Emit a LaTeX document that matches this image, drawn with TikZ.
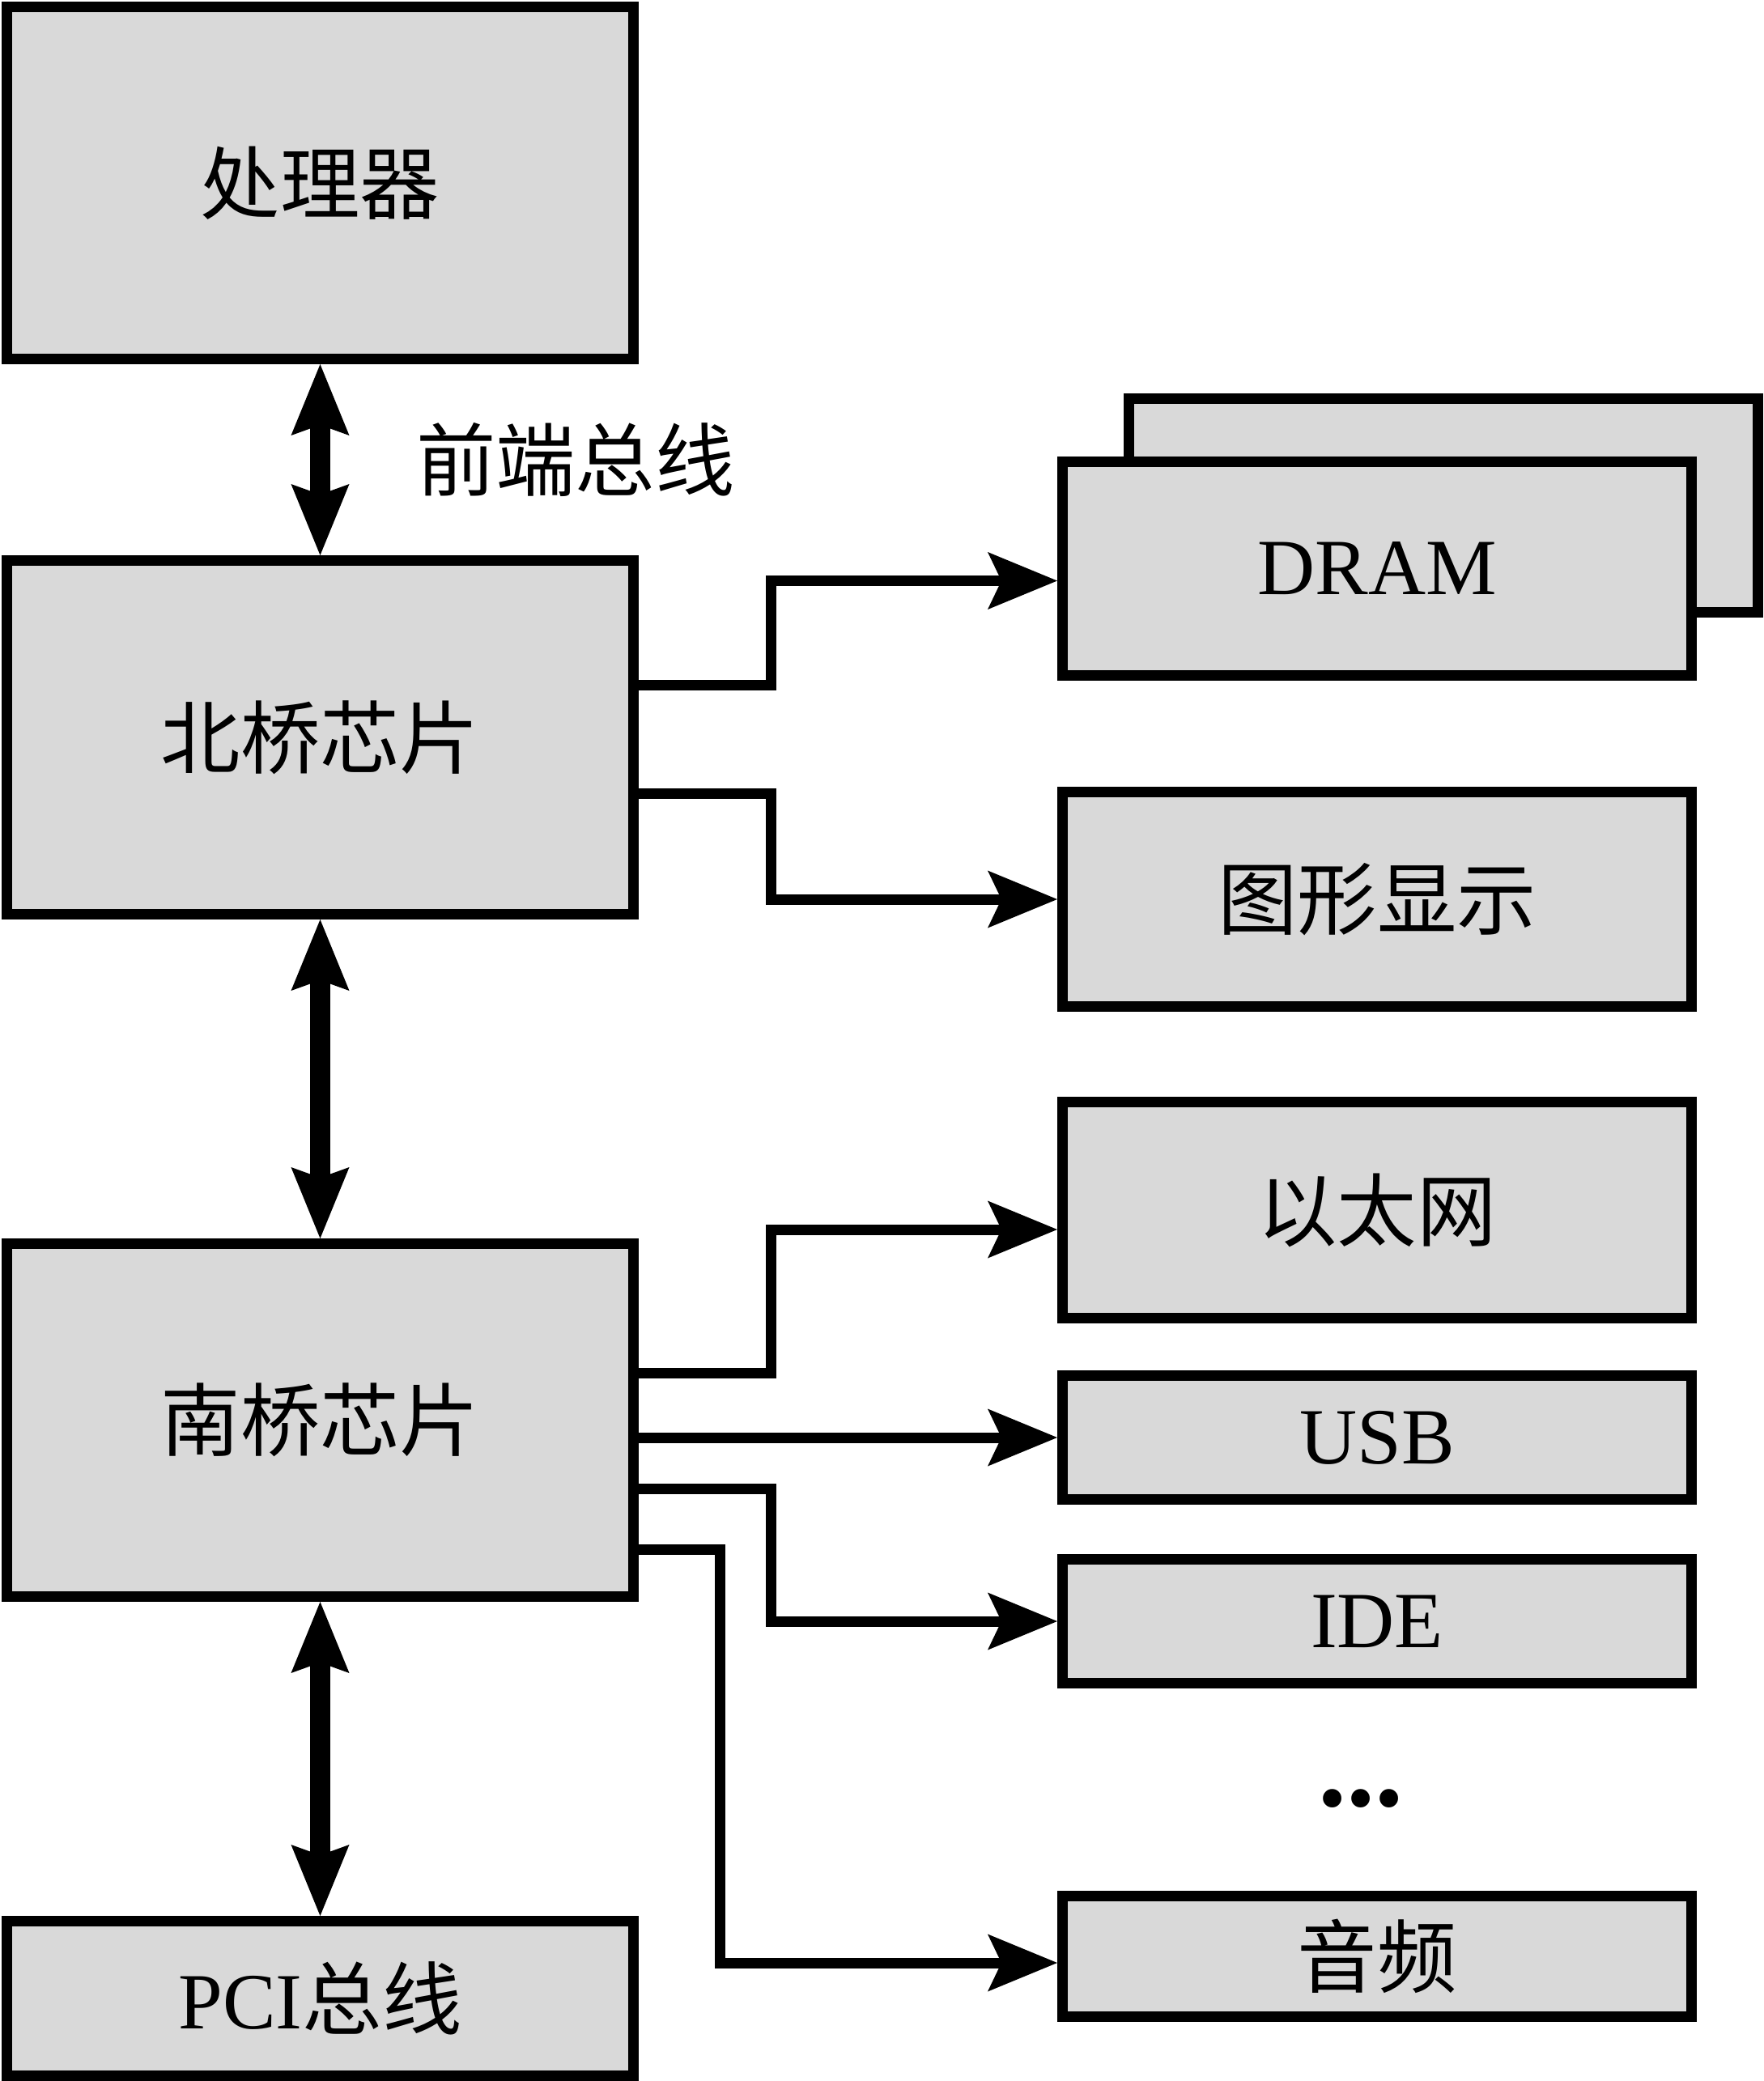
\documentclass[tikz,border=0pt]{standalone}
\usepackage{fontspec}
\setmainfont{Liberation Serif}
\newfontfamily\cjk{Noto Sans CJK SC}
\usepackage{xcolor}
\usepackage{tikz}
\usetikzlibrary{arrows.meta}
\usetikzlibrary{positioning}
\usetikzlibrary{calc}
\definecolor{boxgray}{RGB}{217,217,217}

\begin{document}
\begin{tikzpicture}[
    block/.style={rectangle, draw, line width=0.13cm, fill=boxgray, inner sep=0pt, font=\fontsize{28}{34}\selectfont},
    chip/.style={block, minimum width=7.74cm, minimum height=#1},
    dev/.style={block, minimum width=7.77cm, minimum height=#1},
    link/.style={line width=0.13cm, -{Stealth[length=0.86cm, width=0.71cm, inset=0.17cm, line width=0pt]}},
    bus/.style={line width=0.25cm, <->, >={Stealth[length=0.88cm, width=0.72cm, inset=0.13cm, line width=0pt]}}]
    \useasboundingbox (0,0) rectangle (21.79,-25.71);

    \node[chip=4.35cm] (proc) at (3.955,-2.26) {\cjk 处理器};
    \node[chip=4.37cm] (nb) at (3.955,-9.11) {\cjk 北桥芯片};
    \node[chip=4.36cm] (sb) at (3.955,-17.545) {\cjk 南桥芯片};
    \node[chip=1.91cm] (pci) at (3.955,-24.69) {PCI{\cjk 总线}};

    \node[dev=2.64cm] (dramback) at (17.83,-6.245) {};
    \node[dev=2.64cm] (dram) at (17.01,-7.025) {DRAM};
    \node[dev=2.65cm] (gfx) at (17.01,-11.11) {\cjk 图形显示};
    \node[dev=2.67cm] (eth) at (17.01,-14.95) {\cjk 以太网};
    \node[dev=1.53cm] (usb) at (17.01,-17.76) {USB};
    \node[dev=1.53cm] (ide) at (17.01,-20.03) {IDE};
    \node[dev=1.49cm] (audio) at (17.01,-24.17) {\cjk 音频};
    \node[xshift=-0.2cm, yshift=-0.12cm, font=\fontsize{40}{48}\selectfont\bfseries] (dots) at ($(ide)!0.5!(audio)$) {...};

    \draw[bus] (proc.south) -- node[right=1.06cm, inner sep=0pt, font=\fontsize{28}{34}\selectfont] (fsb) {\cjk 前端总线} (nb.north);
    \draw[bus] (nb.south) -- (sb.north);
    \draw[bus] (sb.south) -- (pci.north);

    \draw[link] ([yshift=0.65cm]nb.east) -- ++(1.63,0) |- ([yshift=-0.15cm]dram.west);
    \draw[link] ([yshift=-0.69cm]nb.east) -- ++(1.63,0) |- (gfx.west);
    \draw[link] ([yshift=0.58cm]sb.east) -- ++(1.63,0) |- ([yshift=-0.24cm]eth.west);
    \draw[link] (sb.east |- usb.west) -- (usb.west);
    \draw[link] ([yshift=-0.85cm]sb.east) -- ++(1.63,0) |- (ide.west);
    \draw[link] ([yshift=-1.6cm]sb.east) -- ++(1.0,0) |- ([yshift=-0.08cm]audio.west);
\end{tikzpicture}
\end{document}
